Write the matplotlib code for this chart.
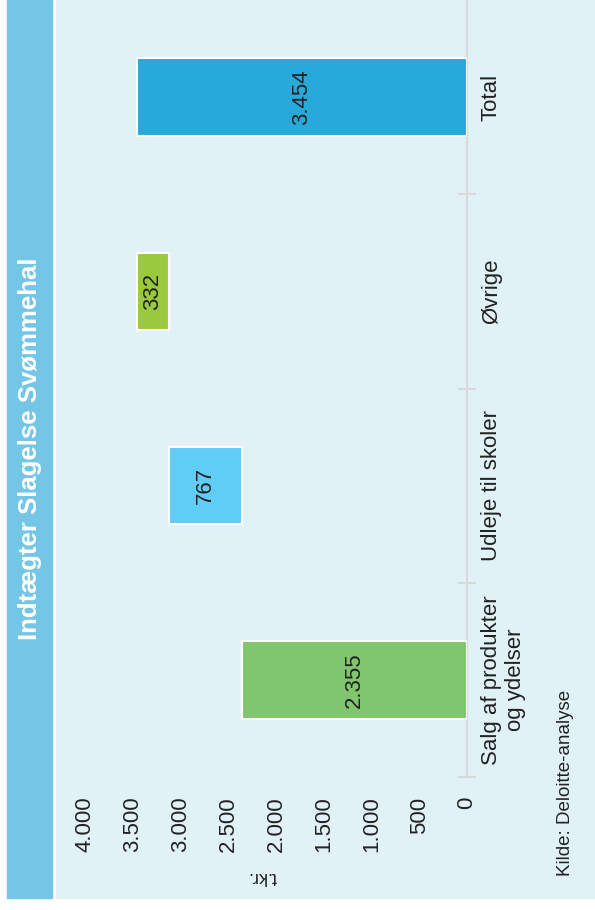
import matplotlib.pyplot as plt
from matplotlib.patches import Rectangle

plt.rcParams['font.family'] = ['Liberation Sans', 'DejaVu Sans']

# waterfall data (t.kr.)
categories = ["Salg af produkter\nog ydelser", "Udleje til skoler", "Øvrige", "Total"]
values = [2355, 767, 332, 3454]
value_labels = ["2.355", "767", "332", "3.454"]
is_total = [False, False, False, True]
bar_colors = ["#80C66E", "#5FCDF5", "#9AC93E", "#27A9DA"]
tick_values = [0, 500, 1000, 1500, 2000, 2500, 3000, 3500, 4000]
tick_labels = ["0", "500", "1.000", "1.500", "2.000", "2.500", "3.000", "3.500", "4.000"]

W, H = 595, 910
fig = plt.figure(figsize=(W / 100, H / 100), dpi=100)
fig.patch.set_facecolor("white")

# background panel and title bar (page is rotated 90 degrees)
fig.patches.append(Rectangle((56 / W, 1 - 898 / H), (W - 56) / W, 898 / H,
                             transform=fig.transFigure, color="#E1F2F7", zorder=-10))
fig.patches.append(Rectangle((7 / W, 1 - 898 / H), 45 / W, 898 / H,
                             transform=fig.transFigure, color="#74C6E6", zorder=-10))
fig.text(30 / W, 1 - 449 / H, "Indtægter Slagelse Svømmehal", rotation=90,
         ha="center", va="center", color="white", fontsize=18.5, fontweight="bold")

ax = fig.add_axes([85 / W, 1 - 777 / H, (467 - 85) / W, 777 / H])
ax.set_facecolor("none")

# bases for the floating bars
bases = []
running = 0
for v, tot in zip(values, is_total):
    if tot:
        bases.append(0)
    else:
        bases.append(running)
        running += v

pos = list(range(len(categories)))
ax.barh(pos, values, left=bases, height=0.4, color=bar_colors,
        edgecolor="white", linewidth=1.5, zorder=3)
for p, b, v, lab in zip(pos, bases, values, value_labels):
    ax.text(b + v / 2, p, lab, rotation=90, ha="center", va="center",
            fontsize=16, color="#222222", zorder=4)

ax.set_xlim(4000, 0)
ax.set_ylim(-0.5, 3.5)
ax.set_xticks(tick_values)
ax.set_xticklabels(tick_labels, rotation=90, fontsize=16, color="#222222")
ax.tick_params(axis="x", length=0, pad=14)

ax.yaxis.tick_right()
ax.set_yticks(pos)
ax.set_yticklabels(categories, rotation=90, fontsize=16, color="#222222",
                   multialignment="center", va="center")
ax.set_yticks([-0.5, 0.5, 1.5, 2.5], minor=True)
ax.tick_params(axis="y", which="major", length=0, pad=10)
ax.tick_params(axis="y", which="minor", length=13, width=1.5, color="#D9D9D9",
               direction="inout")

for s in ["left", "top", "bottom"]:
    ax.spines[s].set_visible(False)
ax.spines["right"].set_color("#D9D9D9")
ax.spines["right"].set_linewidth(1.5)

fig.text(262 / W, 1 - 876 / H, "t.kr.", rotation=180, ha="center", va="center",
         fontsize=13, color="#222222")
fig.text(566 / W, 1 - 783 / H, "Kilde: Deloitte-analyse", rotation=90,
         ha="center", va="center", fontsize=13.5, color="#222222")

fig.savefig("out.png", dpi=100)
